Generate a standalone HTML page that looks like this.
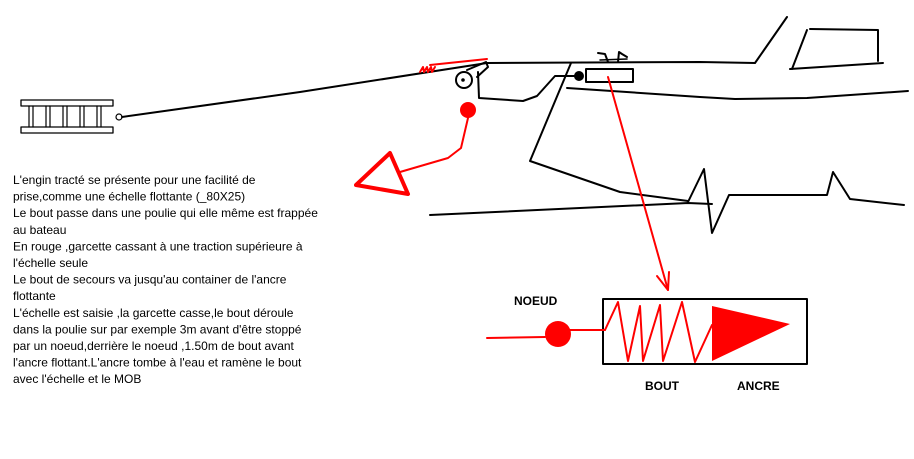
<!DOCTYPE html>
<html><head><meta charset="utf-8"><style>html,body{margin:0;padding:0;background:#fff;}svg{display:block}</style></head>
<body>
<svg width="914" height="459" viewBox="0 0 914 459" xmlns="http://www.w3.org/2000/svg">
<g fill="none" stroke="#000" stroke-width="2" stroke-linecap="round" stroke-linejoin="round">
<!-- ladder -->
<rect x="21" y="100" width="92" height="6" stroke-width="1.3"/>
<rect x="21" y="127" width="92" height="6" stroke-width="1.3"/>
<g stroke-width="1.2">
<line x1="29" y1="106" x2="29" y2="127"/><line x1="33" y1="106" x2="33" y2="127"/>
<line x1="46" y1="106" x2="46" y2="127"/><line x1="50" y1="106" x2="50" y2="127"/>
<line x1="63" y1="106" x2="63" y2="127"/><line x1="67" y1="106" x2="67" y2="127"/>
<line x1="80" y1="106" x2="80" y2="127"/><line x1="84" y1="106" x2="84" y2="127"/>
<line x1="97" y1="106" x2="97" y2="127"/><line x1="101" y1="106" x2="101" y2="127"/>
</g>
<circle cx="119" cy="117" r="3" stroke-width="1.2"/>
<polyline points="122,117 300,92 487,63"/>
<!-- hull -->
<polyline points="487,63 700,62 755,63 787,17"/>
<polyline points="792,69 807,30"/><polyline points="810,29 878,30 878,61"/>
<polyline points="790,69 883,63"/>
<polyline points="567,88 700,97 735,99 807,98 908,91"/>
<polyline points="571,63 530,161 620,192 688,201"/>
<polyline points="430,215 688,203 712,204"/>
<polyline points="688,202 704,169 712,233 729,195 827,195 833,172 850,199 904,205"/>
<!-- pulley -->
<circle cx="464" cy="80" r="8"/>
<circle cx="463" cy="80" r="0.8" fill="#000"/>
<polyline points="467,70 486,62 488,67 477,77"/>
<polyline points="478,72 479,98 523,101 537,96 555,76 577,76"/>
<circle cx="579" cy="76" r="4" fill="#000"/>
<rect x="586" y="69" width="47" height="13"/>
<polyline points="598,53 605,54 608,62"/><polyline points="618,62 619,52 622,54 627,57"/>
<line x1="600" y1="60" x2="627" y2="59" stroke-width="1.5"/>
<!-- bottom box -->
<rect x="603" y="299" width="204" height="65"/>
</g>
<g fill="none" stroke="#f00" stroke-width="2" stroke-linecap="round" stroke-linejoin="round">
<line x1="430" y1="65" x2="487" y2="59"/>
<polyline points="420,72 423,67 424,72 427,67 428,72 431,67 432,72 435,67"/>
<line x1="608" y1="77" x2="668" y2="290"/>
<polyline points="657,276 668,290 669,272"/>
<polyline points="468,118 461,148 448,158 400,172"/>
<polygon points="356,185 390,153 408,194" stroke-width="4"/>
<line x1="487" y1="338" x2="545" y2="337"/>
<line x1="570" y1="330" x2="605" y2="330"/>
<polyline points="605,330 618,302 628,361 640,306 643,361 660,305 663,361 682,302 695,362 712,325"/>
</g>
<circle cx="468" cy="110" r="8" fill="#f00"/>
<circle cx="558" cy="334" r="13" fill="#f00"/>
<polygon points="712,306 790,324 712,361" fill="#f00"/>
<g font-family="Liberation Sans, Arial, sans-serif" font-size="12" fill="#000">
<text x="13" y="184">L'engin tracté se présente pour une facilité de</text>
<text x="13" y="200.6">prise,comme une échelle flottante (_80X25)</text>
<text x="13" y="217.2">Le bout passe dans une poulie qui elle même est frappée</text>
<text x="13" y="233.8">au bateau</text>
<text x="13" y="250.4">En rouge ,garcette cassant à une traction supérieure à</text>
<text x="13" y="267">l'échelle seule</text>
<text x="13" y="283.6">Le bout de secours va jusqu'au container de l'ancre</text>
<text x="13" y="300.2">flottante</text>
<text x="13" y="316.8">L'échelle est saisie ,la garcette casse,le bout déroule</text>
<text x="13" y="333.4">dans la poulie sur par exemple 3m avant d'être stoppé</text>
<text x="13" y="350">par un noeud,derrière le noeud ,1.50m de bout avant</text>
<text x="13" y="366.6">l'ancre flottant.L'ancre tombe à l'eau et ramène le bout</text>
<text x="13" y="383.2">avec l'échelle et le MOB</text>
<g font-weight="bold">
<text x="514" y="305">NOEUD</text>
<text x="645" y="390">BOUT</text>
<text x="737" y="390">ANCRE</text>
</g>
</g>
</svg>
</body></html>
